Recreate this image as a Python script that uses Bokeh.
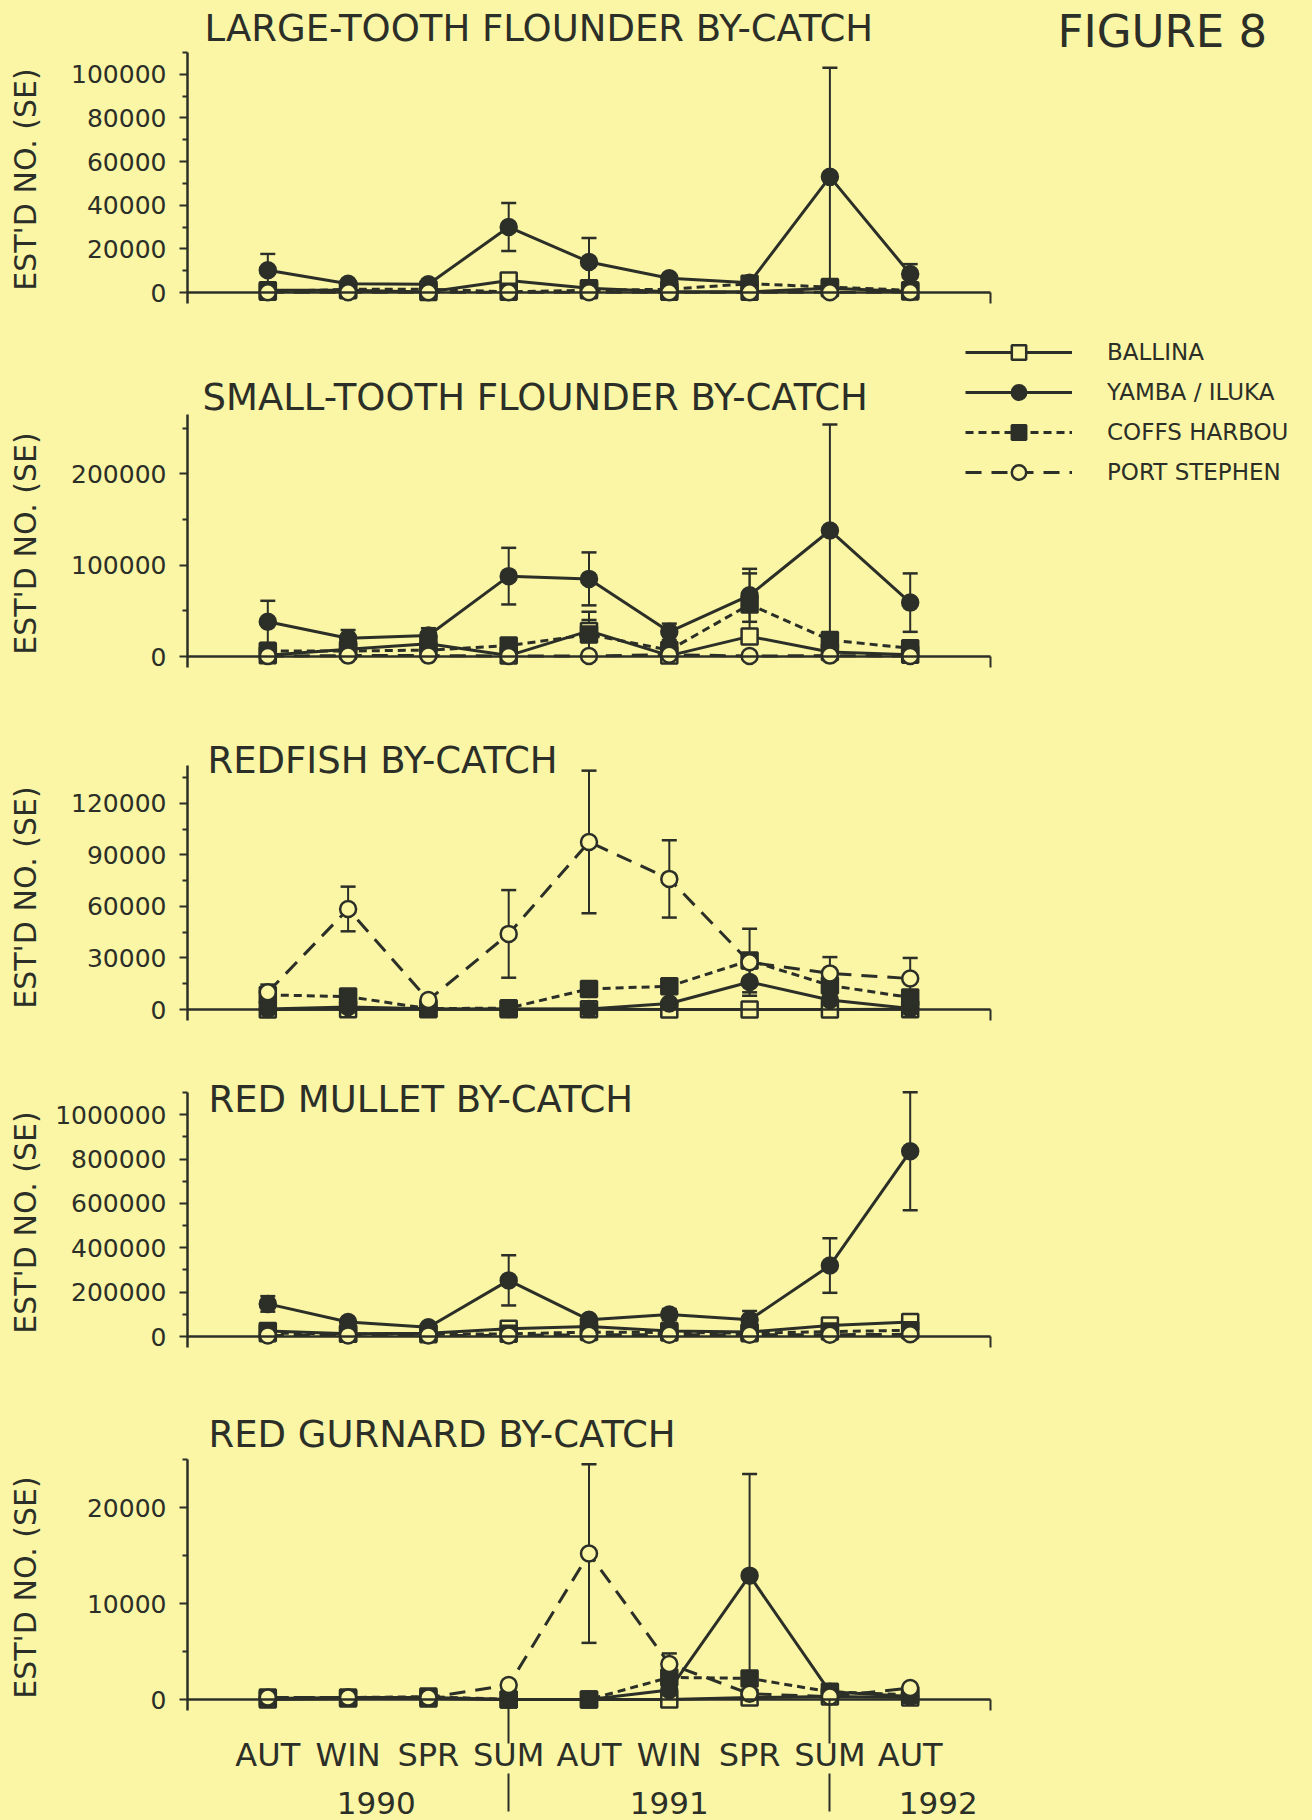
import math
from bokeh.plotting import figure
from bokeh.models import (Range1d, FixedTicker, LinearAxis, Label, Legend, LegendItem,
                          Whisker, TeeHead, ColumnDataSource, NumeralTickFormatter)
from bokeh.layouts import column
from bokeh.embed import file_html
from bokeh.resources import INLINE

# ---------------- data ----------------
SEASONS = ["AUT", "WIN", "SPR", "SUM", "AUT", "WIN", "SPR", "SUM", "AUT"]
YEARS = ["1990", "1991", "1992"]
SERIES = ["BALLINA", "YAMBA / ILUKA", "COFFS HARBOU", "PORT STEPHEN"]

# Large-tooth flounder
LT_BALLINA = [1000, 1000, 200, 5500, 2000, 300, 300, 2000, 500]
LT_BALLINA_SE = [0, 0, 0, 3000, 0, 0, 0, 2500, 0]
LT_YAMBA = [10200, 4000, 3800, 30000, 14000, 6500, 4500, 53000, 8500]
LT_YAMBA_SE = [7500, 1500, 2000, 11000, 11000, 1500, 2500, 50000, 4500]
LT_COFFS = [300, 1500, 1500, 300, 1000, 1500, 4000, 2500, 1000]
LT_COFFS_SE = [0, 0, 0, 0, 0, 0, 0, 0, 0]
LT_PORT = [100, 100, 100, 100, 100, 100, 100, 100, 200]
LT_PORT_SE = [0, 0, 0, 0, 0, 0, 0, 0, 0]

# Small-tooth flounder
ST_BALLINA = [1500, 8000, 14000, 1000, 28000, 1000, 22000, 5000, 2000]
ST_BALLINA_SE = [0, 0, 0, 0, 12000, 0, 8000, 0, 0]
ST_YAMBA = [38000, 20000, 23000, 88000, 85000, 27000, 67000, 138000, 59000]
ST_YAMBA_SE = [23000, 9000, 8000, 31000, 29000, 9000, 29000, 116000, 32000]
ST_COFFS = [6000, 6000, 7000, 12000, 24000, 7000, 57000, 18000, 9000]
ST_COFFS_SE = [0, 0, 0, 0, 25000, 0, 34000, 0, 0]
ST_PORT = [500, 1000, 1000, 500, 500, 2000, 500, 1000, 500]
ST_PORT_SE = [0, 0, 0, 0, 0, 0, 0, 0, 0]

# Redfish
RF_BALLINA = [0, 200, 200, 100, 100, 0, 0, 0, 100]
RF_BALLINA_SE = [0, 0, 0, 0, 0, 0, 0, 0, 0]
RF_YAMBA = [300, 1500, 500, 300, 300, 3500, 16000, 5500, 600]
RF_YAMBA_SE = [0, 0, 0, 0, 0, 0, 8000, 2500, 0]
RF_COFFS = [8500, 7500, 500, 800, 12000, 13500, 28500, 14000, 7000]
RF_COFFS_SE = [0, 3000, 0, 0, 4000, 3500, 18500, 0, 3000]
RF_PORT = [10000, 58500, 5500, 44000, 97500, 76000, 27500, 21000, 18000]
RF_PORT_SE = [4500, 13000, 0, 25500, 41500, 22500, 0, 9500, 12000]

# Red mullet
RM_BALLINA = [25000, 12000, 15000, 35000, 45000, 25000, 20000, 50000, 65000]
RM_BALLINA_SE = [0, 0, 0, 0, 0, 0, 0, 0, 0]
RM_YAMBA = [147000, 65000, 42000, 253000, 75000, 99000, 75000, 320000, 835000]
RM_YAMBA_SE = [35000, 15000, 15000, 113000, 15000, 25000, 40000, 123000, 266000]
RM_COFFS = [15000, 12000, 10000, 12000, 20000, 18000, 15000, 22000, 28000]
RM_COFFS_SE = [0, 0, 0, 0, 0, 0, 0, 0, 0]
RM_PORT = [5000, 5000, 5000, 5000, 8000, 8000, 8000, 8000, 10000]
RM_PORT_SE = [0, 0, 0, 0, 0, 0, 0, 0, 0]

# Red gurnard
RG_BALLINA = [0, 100, 100, 0, 0, 0, 200, 300, 200]
RG_BALLINA_SE = [0, 0, 0, 0, 0, 0, 0, 0, 0]
RG_YAMBA = [100, 200, 200, 0, 0, 1000, 12900, 800, 300]
RG_YAMBA_SE = [0, 0, 0, 0, 0, 0, 10600, 0, 0]
RG_COFFS = [200, 200, 300, 0, 0, 2300, 2200, 800, 500]
RG_COFFS_SE = [0, 0, 0, 0, 0, 0, 0, 0, 0]
RG_PORT = [200, 200, 200, 1500, 15200, 3700, 600, 300, 1200]
RG_PORT_SE = [0, 0, 0, 0, 9300, 1100, 0, 0, 0]

X = list(range(1, len(SEASONS) + 1))

# ---------------- style / layout ----------------
BG = "#FAF6A6"
INK = "#2C2F27"
FONT = "DejaVu Sans"
STYLE = {
    "BALLINA": dict(marker="square", fill=BG, dash="solid"),
    "YAMBA / ILUKA": dict(marker="circle", fill=INK, dash="solid"),
    "COFFS HARBOU": dict(marker="square", fill=INK, dash="8 5"),
    "PORT STEPHEN": dict(marker="circle", fill=BG, dash="16 10"),
}
W = 1312
X0_PX, X10_PX = 187, 990          # pixel position of x = 0 and x = 10
KX = (X10_PX - X0_PX) / 10.0
PAD = 11                           # axis stub below zero, px


def text_label(p, fig_bottom, x, y_page, text, size, **kw):
    p.add_layout(Label(x=x, y=fig_bottom - y_page, x_units=kw.pop("x_units", "screen"),
                       y_units="screen", text=text, text_font=FONT, text_font_size=size,
                       text_color=INK, text_baseline="middle",
                       text_align=kw.pop("align", "left"), **kw))


def tick_only_axis(minor, length, location):
    return LinearAxis(ticker=FixedTicker(ticks=[], minor_ticks=minor),
                      fixed_location=location, bounds=(0, 10),
                      axis_line_color=None, major_tick_out=0, major_tick_in=0,
                      minor_tick_out=length, minor_tick_in=0, minor_tick_line_color=INK,
                      minor_tick_line_width=2, major_label_standoff=0)


def make_panel(title, series, fig_top, fig_bottom, top_px, zero_px, ytop,
               major, minor, title_xy, ylab_y):
    h = fig_bottom - fig_top
    ky = (zero_px - top_px) / float(ytop)
    p = figure(width=W, height=h, min_border=0,
               x_range=Range1d(-X0_PX / KX, (W - X0_PX) / KX),
               y_range=Range1d(-(fig_bottom - zero_px) / ky, (zero_px - fig_top) / ky),
               output_backend="svg", toolbar_location=None, title=None,
               background_fill_color=BG, border_fill_color=BG)
    p.outline_line_color = None
    p.xgrid.visible = False
    p.ygrid.visible = False

    # x axis line at zero, with the end stub at x = 10
    xa = p.xaxis[0]
    xa.fixed_location = 0
    xa.bounds = (0, 10)
    xa.ticker = FixedTicker(ticks=[], minor_ticks=[10])
    xa.axis_line_color = INK
    xa.axis_line_width = 2.5
    xa.major_tick_out = 0
    xa.major_tick_in = 0
    xa.minor_tick_line_color = INK
    xa.minor_tick_line_width = 2
    xa.minor_tick_out = PAD
    xa.minor_tick_in = 0
    xa.major_label_standoff = 0

    ya = p.yaxis[0]
    ya.fixed_location = 0
    ya.bounds = (-PAD / ky, ytop)
    ya.ticker = FixedTicker(ticks=major, minor_ticks=minor)
    ya.formatter = NumeralTickFormatter(format="0")
    ya.axis_line_color = INK
    ya.axis_line_width = 2.5
    ya.major_tick_line_color = INK
    ya.major_tick_line_width = 2
    ya.major_tick_out = 8
    ya.major_tick_in = 0
    ya.minor_tick_line_color = INK
    ya.minor_tick_line_width = 2
    ya.minor_tick_out = 5
    ya.minor_tick_in = 0
    ya.major_label_standoff = 13
    ya.major_label_text_font = FONT
    ya.major_label_text_font_size = "25px"
    ya.major_label_text_color = INK

    renderers = {}
    for name, vals, se in series:
        st = STYLE[name]
        ln = p.line(X, vals, line_color=INK, line_width=3, line_dash=st["dash"])
        pts = [(x, v, s) for x, v, s in zip(X, vals, se) if s > 0]
        if pts:
            src = ColumnDataSource(dict(x=[a for a, _, _ in pts],
                                        lo=[b - c for _, b, c in pts],
                                        hi=[b + c for _, b, c in pts]))
            w = Whisker(source=src, base="x", lower="lo", upper="hi", dimension="height",
                        line_color=INK, line_width=2,
                        upper_head=TeeHead(size=15, line_color=INK, line_width=2.5),
                        lower_head=TeeHead(size=15, line_color=INK, line_width=2.5),
                        level="underlay")
            p.add_layout(w)
        mk = p.scatter(X, vals, marker=st["marker"], size=16, fill_color=st["fill"],
                       line_color=INK, line_width=2.5)
        renderers[name] = [ln, mk]

    text_label(p, fig_bottom, title_xy[0], title_xy[1], title, "37px")
    text_label(p, fig_bottom, 25, ylab_y, "EST'D NO. (SE)", "30px",
               angle=math.pi / 2, align="center")
    return p, renderers


def series_of(b, bse, y, yse, c, cse, pt, ptse):
    return [("BALLINA", b, bse), ("YAMBA / ILUKA", y, yse),
            ("COFFS HARBOU", c, cse), ("PORT STEPHEN", pt, ptse)]


p1, _ = make_panel("LARGE-TOOTH FLOUNDER BY-CATCH",
                   series_of(LT_BALLINA, LT_BALLINA_SE, LT_YAMBA, LT_YAMBA_SE,
                             LT_COFFS, LT_COFFS_SE, LT_PORT, LT_PORT_SE),
                   0, 330, 52, 292, 110000, [0, 20000, 40000, 60000, 80000, 100000],
                   [10000, 30000, 50000, 70000, 90000, 110000], (204, 28), 179)
text_label(p1, 330, 1057, 31, "FIGURE 8", "45px")

p2, r2 = make_panel("SMALL-TOOTH FLOUNDER BY-CATCH",
                    series_of(ST_BALLINA, ST_BALLINA_SE, ST_YAMBA, ST_YAMBA_SE,
                              ST_COFFS, ST_COFFS_SE, ST_PORT, ST_PORT_SE),
                    330, 700, 414, 656, 265000, [0, 100000, 200000],
                    [50000, 150000, 250000], (202, 397), 543)
legend = Legend(items=[LegendItem(label=n, renderers=r2[n]) for n in SERIES],
                location=(965, 700 - 490), margin=0, padding=0, spacing=4,
                glyph_width=107, glyph_height=36, label_height=36, label_standoff=35,
                label_text_font=FONT, label_text_font_size="23px", label_text_color=INK,
                background_fill_alpha=0, border_line_color=None)
p2.add_layout(legend)

p3, _ = make_panel("REDFISH BY-CATCH",
                   series_of(RF_BALLINA, RF_BALLINA_SE, RF_YAMBA, RF_YAMBA_SE,
                             RF_COFFS, RF_COFFS_SE, RF_PORT, RF_PORT_SE),
                   700, 1050, 765, 1009, 142000, [0, 30000, 60000, 90000, 120000],
                   [15000, 45000, 75000, 105000, 135000], (207, 760), 897)

p4, _ = make_panel("RED MULLET BY-CATCH",
                   series_of(RM_BALLINA, RM_BALLINA_SE, RM_YAMBA, RM_YAMBA_SE,
                             RM_COFFS, RM_COFFS_SE, RM_PORT, RM_PORT_SE),
                   1050, 1380, 1092, 1336, 1100000, [0, 200000, 400000, 600000, 800000, 1000000],
                   [100000, 300000, 500000, 700000, 900000, 1100000], (208, 1099), 1222)

G_TOP, G_BOT, G_AXTOP, G_ZERO = 1380, 1820, 1459, 1699
p5, _ = make_panel("RED GURNARD BY-CATCH",
                   series_of(RG_BALLINA, RG_BALLINA_SE, RG_YAMBA, RG_YAMBA_SE,
                             RG_COFFS, RG_COFFS_SE, RG_PORT, RG_PORT_SE),
                   G_TOP, G_BOT, G_AXTOP, G_ZERO, 25000, [0, 10000, 20000],
                   [5000, 15000, 25000], (208, 1434), 1587)
ky5 = (G_ZERO - G_AXTOP) / 25000.0

# year separators, upper part (from the zero line down to the season labels)
p5.add_layout(tick_only_axis([4, 8], 44, 0), "below")

# season labels
season_axis = LinearAxis(ticker=FixedTicker(ticks=X), fixed_location=0, bounds=(0, 10),
                         major_label_overrides={x: s for x, s in zip(X, SEASONS)},
                         axis_line_color=None, major_tick_out=0, major_tick_in=0,
                         minor_tick_out=0, minor_tick_in=0, major_label_standoff=36,
                         major_label_text_font=FONT, major_label_text_font_size="32px",
                         major_label_text_color=INK)
p5.add_layout(season_axis, "below")

# year separators, lower part
p5.add_layout(tick_only_axis([4, 8], 38, -(1773 - G_ZERO) / ky5), "below")

for xpos, yr in zip([2.35, 6.0, 9.35], YEARS):
    text_label(p5, G_BOT, xpos, 1802, yr, "31px", x_units="data", align="center")

layout = column(p1, p2, p3, p4, p5, spacing=0)
html = file_html(layout, INLINE)
html = html.replace("</head>",
                    "<style>html, body { background-color: %s !important; }</style></head>" % BG, 1)
open("out.html", "w").write(html)
